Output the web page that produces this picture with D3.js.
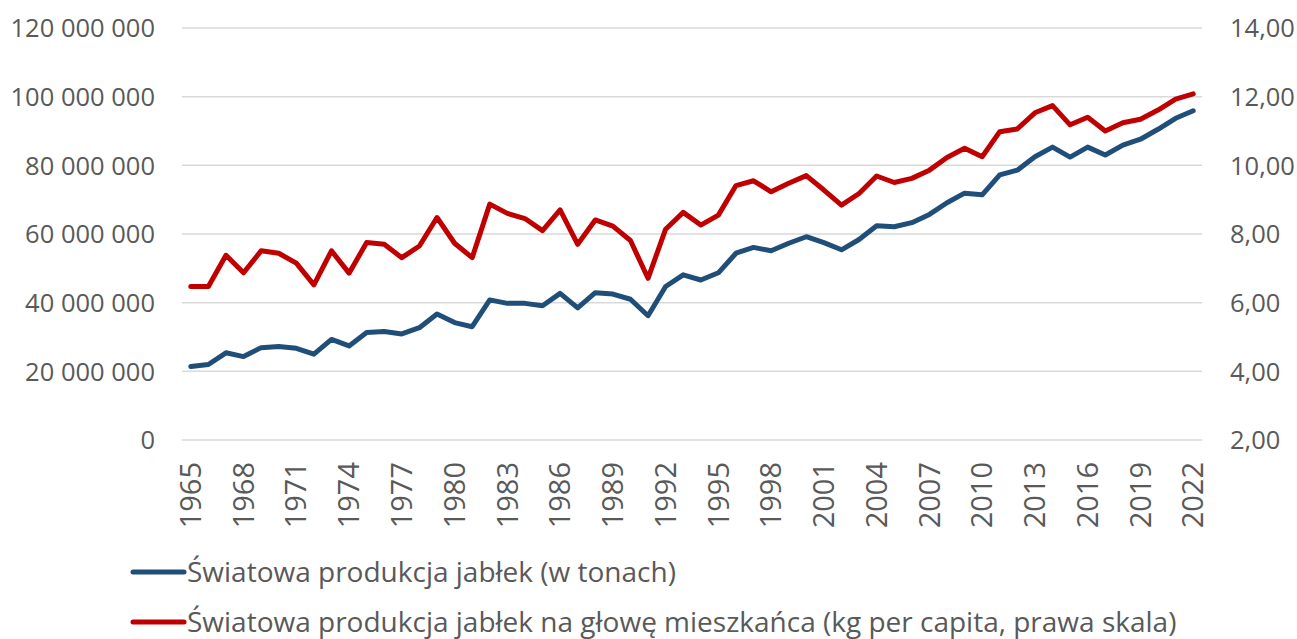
<!DOCTYPE html>
<html>
<head>
<meta charset="utf-8">
<script src="https://cdn.jsdelivr.net/npm/d3@7"></script>
<style>
  body { margin: 0; background: #fff; }
  text { font-family: "Open Sans", sans-serif; fill: #595959; }
</style>
</head>
<body>
<div id="chart"></div>
<script>
// years on the x axis
const years = [1965, 1966, 1967, 1968, 1969, 1970, 1971, 1972, 1973, 1974,
  1975, 1976, 1977, 1978, 1979, 1980, 1981, 1982, 1983, 1984,
  1985, 1986, 1987, 1988, 1989, 1990, 1991, 1992, 1993, 1994,
  1995, 1996, 1997, 1998, 1999, 2000, 2001, 2002, 2003, 2004,
  2005, 2006, 2007, 2008, 2009, 2010, 2011, 2012, 2013, 2014,
  2015, 2016, 2017, 2018, 2019, 2020, 2021, 2022];

// world apple production, tonnes (left scale)
const production = [21400000, 22000000, 25400000, 24300000, 26900000, 27200000, 26700000, 25000000, 29300000, 27400000,
  31300000, 31600000, 30900000, 32700000, 36700000, 34200000, 33000000, 40800000, 39800000, 39800000,
  39100000, 42700000, 38500000, 42900000, 42500000, 41000000, 36200000, 44700000, 48100000, 46600000,
  48700000, 54400000, 56100000, 55100000, 57300000, 59200000, 57500000, 55400000, 58400000, 62400000,
  62100000, 63300000, 65700000, 69100000, 71900000, 71400000, 77200000, 78600000, 82500000, 85300000,
  82400000, 85300000, 83000000, 85900000, 87600000, 90500000, 93700000, 95900000];

// kg per capita (right scale)
const perCapita = [6.47, 6.47, 7.38, 6.87, 7.51, 7.44, 7.15, 6.52, 7.51, 6.86,
  7.75, 7.70, 7.31, 7.65, 8.48, 7.73, 7.31, 8.87, 8.60, 8.45,
  8.10, 8.70, 7.70, 8.41, 8.23, 7.81, 6.71, 8.14, 8.63, 8.26,
  8.55, 9.41, 9.55, 9.23, 9.48, 9.70, 9.28, 8.84, 9.18, 9.69,
  9.50, 9.62, 9.86, 10.23, 10.50, 10.25, 10.98, 11.06, 11.53, 11.74,
  11.18, 11.40, 11.00, 11.24, 11.34, 11.61, 11.93, 12.08];

const leftTicks = [0, 20000000, 40000000, 60000000, 80000000, 100000000, 120000000];
const rightTicks = [2, 4, 6, 8, 10, 12, 14];
const yearTicks = [1965, 1968, 1971, 1974, 1977, 1980, 1983, 1986, 1989, 1992,
  1995, 1998, 2001, 2004, 2007, 2010, 2013, 2016, 2019, 2022];

const seriesNames = ["Światowa produkcja jabłek (w tonach)",
  "Światowa produkcja jabłek na głowę mieszkańca (kg per capita, prawa skala)"];
const colors = ["#1f4e79", "#c00000"];

var width = 1297, height = 639;
var margin = {top: 28, right: 95, bottom: 199, left: 182};

var svg = d3.select("#chart")
  .append("svg")
  .attr("width", width)
  .attr("height", height);

var x = d3.scaleBand()
  .domain(years)
  .range([margin.left, width - margin.right])
  .padding(0);

var yLeft = d3.scaleLinear()
  .domain([0, 120000000])
  .range([height - margin.bottom, margin.top]);

var yRight = d3.scaleLinear()
  .domain([2, 14])
  .range([height - margin.bottom, margin.top]);

var cx = function (d) { return x(d) + x.bandwidth() / 2; };

// gridlines
svg.append("g")
  .selectAll("line")
  .data(leftTicks)
  .enter()
  .append("line")
  .attr("x1", margin.left)
  .attr("x2", width - margin.right)
  .attr("y1", function (d) { return yLeft(d); })
  .attr("y2", function (d) { return yLeft(d); })
  .attr("stroke", "#d9d9d9")
  .attr("stroke-width", 1.5);

// left axis
var fmtLeft = function (d) { return d3.format(",")(d).replace(/,/g, " "); };
var leftAxis = svg.append("g")
  .attr("transform", "translate(" + (margin.left - 27) + ",0)")
  .call(d3.axisLeft(yLeft).tickValues(leftTicks).tickFormat(fmtLeft).tickSize(0).tickPadding(0));
leftAxis.select(".domain").remove();
leftAxis.selectAll("text").style("font-size", "25.5px").attr("dy", "0.35em");

// right axis
var fmtRight = function (d) { return d3.format(".2f")(d).replace(".", ","); };
var rightAxis = svg.append("g")
  .attr("transform", "translate(" + (width - margin.right + 28) + ",0)")
  .call(d3.axisRight(yRight).tickValues(rightTicks).tickFormat(fmtRight).tickSize(0).tickPadding(0));
rightAxis.select(".domain").remove();
rightAxis.selectAll("text").style("font-size", "25.5px").attr("dy", "0.35em");

// bottom axis, rotated year labels
var bottomAxis = svg.append("g")
  .attr("transform", "translate(0," + (height - margin.bottom) + ")")
  .call(d3.axisBottom(x).tickValues(yearTicks).tickSize(0).tickPadding(0));
bottomAxis.select(".domain").remove();
bottomAxis.selectAll("text")
  .style("font-size", "29px")
  .style("text-anchor", "end")
  .attr("dy", "0.35em")
  .attr("y", 0)
  .attr("transform", "translate(0,22) rotate(-90)");

// lines
var lineLeft = d3.line()
  .x(function (d, i) { return cx(years[i]); })
  .y(function (d) { return yLeft(d); });

var lineRight = d3.line()
  .x(function (d, i) { return cx(years[i]); })
  .y(function (d) { return yRight(d); });

svg.append("path")
  .datum(production)
  .attr("d", lineLeft)
  .attr("fill", "none")
  .attr("stroke", colors[0])
  .attr("stroke-width", 5)
  .attr("stroke-linejoin", "round")
  .attr("stroke-linecap", "round");

svg.append("path")
  .datum(perCapita)
  .attr("d", lineRight)
  .attr("fill", "none")
  .attr("stroke", colors[1])
  .attr("stroke-width", 5)
  .attr("stroke-linejoin", "round")
  .attr("stroke-linecap", "round");

// legend
var legend = svg.append("g")
  .selectAll("g")
  .data(seriesNames)
  .enter()
  .append("g")
  .attr("transform", function (d, i) { return "translate(0," + (572 + i * 50) + ")"; });

legend.append("line")
  .attr("x1", 133)
  .attr("x2", 184)
  .attr("stroke", function (d, i) { return colors[i]; })
  .attr("stroke-width", 5)
  .attr("stroke-linecap", "round");

legend.append("text")
  .attr("x", 187)
  .attr("dy", "0.35em")
  .style("font-size", "28px")
  .text(function (d) { return d; });
</script>
</body>
</html>
